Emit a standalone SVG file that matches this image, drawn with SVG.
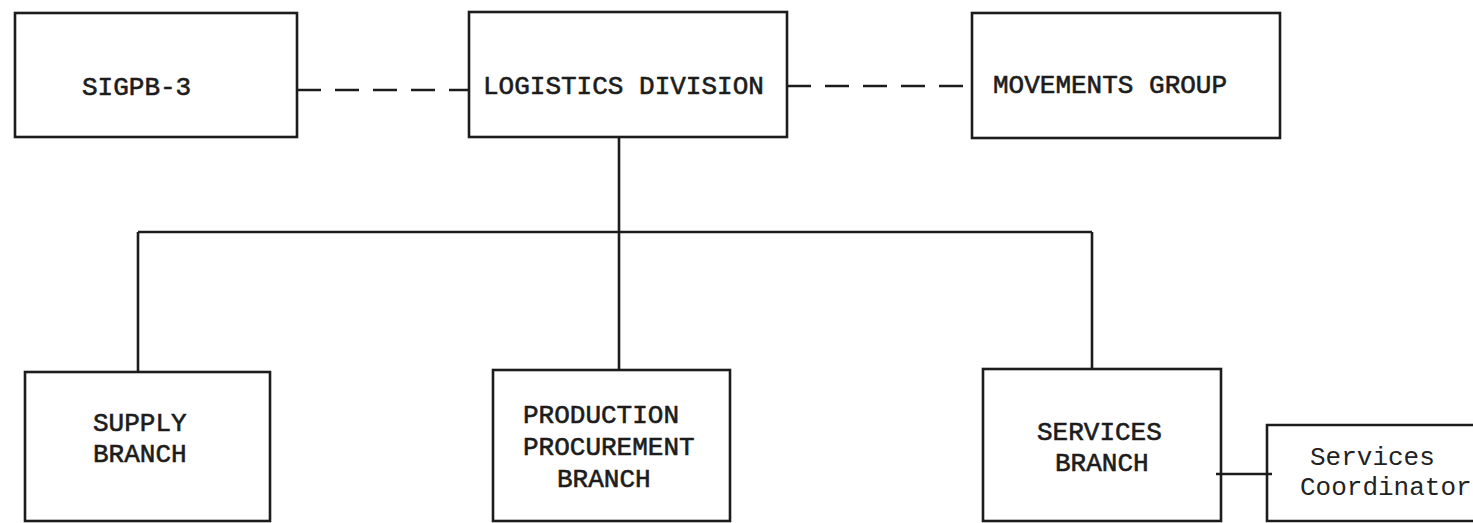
<svg xmlns="http://www.w3.org/2000/svg" width="1473" height="523" viewBox="0 0 1473 523">
<style>
.box{fill:none;stroke:#1c1c1c;stroke-width:2.6}
.ln{fill:none;stroke:#1c1c1c;stroke-width:2.6}
.dash{fill:none;stroke:#1c1c1c;stroke-width:2.6;stroke-dasharray:24 14}
.t{font-family:"Liberation Mono","DejaVu Sans Mono",monospace;font-size:26px;fill:#1c1c1c;stroke:#1c1c1c;stroke-width:0.6}
.tl{font-family:"Liberation Mono","DejaVu Sans Mono",monospace;font-size:26px;fill:#222}
</style>
<rect width="1473" height="523" fill="#fff"/>
<g id="connectors">
<line class="dash" x1="297" y1="90" x2="469" y2="90"/>
<line class="dash" x1="787" y1="86" x2="972" y2="86"/>
<line class="ln" x1="619" y1="137" x2="619" y2="370"/>
<line class="ln" x1="138" y1="232" x2="1092" y2="232"/>
<line class="ln" x1="138" y1="232" x2="138" y2="372"/>
<line class="ln" x1="1092" y1="232" x2="1092" y2="369"/>
<line class="ln" x1="1216" y1="474" x2="1272" y2="474"/>
</g>
<g id="sigpb3">
<rect class="box" x="15" y="13" width="282" height="124"/>
<text class="t" x="82" y="95">SIGPB-3</text>
</g>
<g id="logistics">
<rect class="box" x="469" y="12" width="318" height="125"/>
<text class="t" x="483" y="94">LOGISTICS DIVISION</text>
</g>
<g id="movements">
<rect class="box" x="972" y="13" width="308" height="125"/>
<text class="t" x="993" y="93">MOVEMENTS GROUP</text>
</g>
<g id="supply">
<rect class="box" x="25" y="372" width="245" height="149"/>
<text class="t" x="93" y="431">SUPPLY</text>
<text class="t" x="93" y="462">BRANCH</text>
</g>
<g id="production">
<rect class="box" x="493" y="370" width="237" height="151"/>
<text class="t" x="523" y="423">PRODUCTION</text>
<text class="t" x="523" y="455">PROCUREMENT</text>
<text class="t" x="557" y="487">BRANCH</text>
</g>
<g id="services">
<rect class="box" x="983" y="369" width="238" height="152"/>
<text class="t" x="1037" y="440">SERVICES</text>
<text class="t" x="1055" y="471">BRANCH</text>
</g>
<g id="coordinator">
<path class="box" d="M1475,425 H1267 V521 H1475"/>
<text class="tl" x="1310" y="465">Services</text>
<text class="tl" x="1300" y="495">Coordinator</text>
</g>
</svg>
